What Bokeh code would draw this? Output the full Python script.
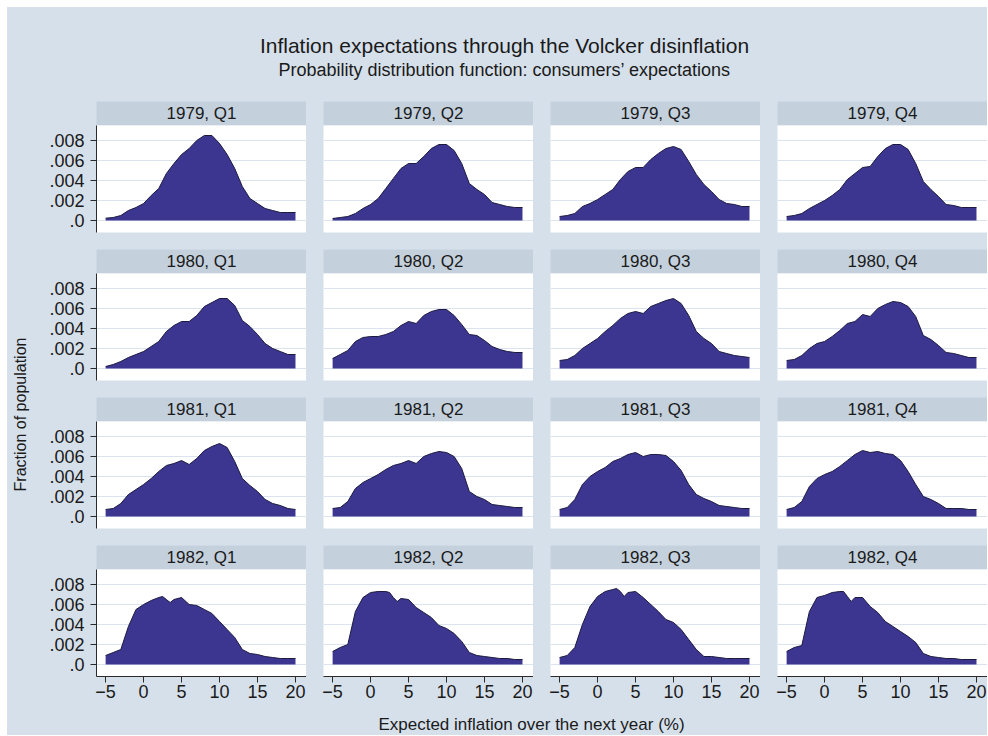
import math
from bokeh.plotting import figure
from bokeh.layouts import row, column
from bokeh.models import Range1d, FixedTicker, ColumnDataSource
from bokeh.embed import file_html
from bokeh.resources import INLINE
from bokeh.core.properties import value

# ---------------- data ----------------
title_text = "Inflation expectations through the Volcker disinflation"
subtitle_text = "Probability distribution function: consumers\u2019 expectations"
x_title = "Expected inflation over the next year (%)"
y_title = "Fraction of population"

years = [1979, 1980, 1981, 1982]
quarters = ["Q1", "Q2", "Q3", "Q4"]

x_grid = list(range(-5, 21))
x_grid_1982 = [-5, -4, -3, -2, -1, 0, 1, 2, 2.5, 3, 3.5, 4] + list(range(5, 21))

pdf_1979_q1 = [0.00023, 0.0003, 0.0005, 0.0010, 0.0013, 0.0017, 0.0025, 0.0032, 0.0047, 0.0057, 0.0066, 0.0072, 0.0080,
               0.0085, 0.0085, 0.0077, 0.0066, 0.0052, 0.0034, 0.0022, 0.0017, 0.0012, 0.0010, 0.0008, 0.0008, 0.0008]
pdf_1979_q2 = [0.0002, 0.0003, 0.0004, 0.0007, 0.0012, 0.0016, 0.0022, 0.0032, 0.0042, 0.0052, 0.0057, 0.0057, 0.0064,
               0.0072, 0.0076, 0.0076, 0.0070, 0.0057, 0.0037, 0.0031, 0.0026, 0.0018, 0.0016, 0.0014, 0.0013, 0.0013]
pdf_1979_q3 = [0.0004, 0.0005, 0.0007, 0.0014, 0.0017, 0.0021, 0.0026, 0.0031, 0.0041, 0.0049, 0.0053, 0.0053, 0.0061,
               0.0067, 0.0072, 0.0074, 0.0071, 0.0059, 0.0046, 0.0036, 0.0029, 0.0021, 0.0017, 0.0016, 0.0014, 0.0014]
pdf_1979_q4 = [0.0004, 0.0005, 0.0007, 0.0012, 0.0016, 0.0020, 0.0025, 0.0031, 0.0041, 0.0047, 0.0053, 0.0054, 0.0064,
               0.0072, 0.0076, 0.0076, 0.0071, 0.0057, 0.0039, 0.0031, 0.0024, 0.0016, 0.0015, 0.0013, 0.0013, 0.0013]

pdf_1980_q1 = [0.0002, 0.0004, 0.0007, 0.0011, 0.0014, 0.0017, 0.0022, 0.0027, 0.0037, 0.0043, 0.0047, 0.0047, 0.0053,
               0.0062, 0.0066, 0.0070, 0.0070, 0.0063, 0.0048, 0.0042, 0.0034, 0.0025, 0.0020, 0.0017, 0.0014, 0.0014]
pdf_1980_q2 = [0.0010, 0.0014, 0.0018, 0.0027, 0.0031, 0.0032, 0.0032, 0.0034, 0.0037, 0.0043, 0.0047, 0.0045, 0.0053,
               0.0057, 0.0059, 0.0059, 0.0053, 0.0044, 0.0034, 0.0033, 0.0028, 0.0022, 0.0019, 0.0017, 0.0016, 0.0016]
pdf_1980_q3 = [0.0008, 0.0009, 0.0013, 0.0020, 0.0025, 0.0030, 0.0037, 0.0043, 0.0050, 0.0055, 0.0057, 0.0055, 0.0062,
               0.0065, 0.0068, 0.0070, 0.0065, 0.0053, 0.0037, 0.0030, 0.0025, 0.0017, 0.0015, 0.0013, 0.0012, 0.0011]
pdf_1980_q4 = [0.0008, 0.0009, 0.0013, 0.0020, 0.0025, 0.0027, 0.0032, 0.0038, 0.0045, 0.0047, 0.0054, 0.0052, 0.0060,
               0.0064, 0.0067, 0.0066, 0.0062, 0.0052, 0.0033, 0.0029, 0.0023, 0.0016, 0.0015, 0.0013, 0.0011, 0.0011]

pdf_1981_q1 = [0.0007, 0.0008, 0.0013, 0.0022, 0.0027, 0.0032, 0.0038, 0.0045, 0.0051, 0.0053, 0.0056, 0.0052, 0.0058,
               0.0066, 0.0070, 0.0073, 0.0069, 0.0055, 0.0038, 0.0031, 0.0025, 0.0017, 0.0013, 0.0011, 0.0008, 0.0007]
pdf_1981_q2 = [0.0008, 0.0009, 0.0015, 0.0028, 0.0034, 0.0038, 0.0042, 0.0047, 0.0051, 0.0053, 0.0056, 0.0053, 0.0060,
               0.0063, 0.0065, 0.0064, 0.0060, 0.0048, 0.0025, 0.0020, 0.0017, 0.0012, 0.0011, 0.0010, 0.0009, 0.0009]
pdf_1981_q3 = [0.0007, 0.0009, 0.0017, 0.0032, 0.0040, 0.0045, 0.0049, 0.0055, 0.0058, 0.0062, 0.0064, 0.0060, 0.0062,
               0.0062, 0.0061, 0.0055, 0.0046, 0.0032, 0.0022, 0.0018, 0.0015, 0.0011, 0.0010, 0.0009, 0.0008, 0.0008]
pdf_1981_q4 = [0.0007, 0.0009, 0.0015, 0.0030, 0.0038, 0.0042, 0.0045, 0.0050, 0.0056, 0.0062, 0.0066, 0.0064, 0.0065,
               0.0063, 0.0062, 0.0056, 0.0045, 0.0032, 0.0020, 0.0017, 0.0013, 0.0008, 0.0008, 0.0008, 0.0007, 0.0007]

pdf_1982_q1 = [0.0009, 0.0012, 0.0015, 0.0038, 0.0055, 0.0060, 0.0064, 0.0067, 0.0068, 0.0065, 0.0062, 0.0065, 0.0067,
               0.0060, 0.0059, 0.0055, 0.0051, 0.0043, 0.0035, 0.0027, 0.0015, 0.0011, 0.0010, 0.0008, 0.0007, 0.0006,
               0.0006, 0.0006]
pdf_1982_q2 = [0.0013, 0.0017, 0.0020, 0.0053, 0.0067, 0.0072, 0.0073, 0.0073, 0.0072, 0.0067, 0.0063, 0.0066, 0.0065,
               0.0057, 0.0052, 0.0047, 0.0039, 0.0036, 0.0031, 0.0023, 0.0012, 0.0009, 0.0008, 0.0007, 0.0006, 0.0006,
               0.0005, 0.0005]
pdf_1982_q3 = [0.0007, 0.0009, 0.0017, 0.0040, 0.0058, 0.0068, 0.0073, 0.0075, 0.0076, 0.0073, 0.0068, 0.0072, 0.0073,
               0.0067, 0.0060, 0.0053, 0.0045, 0.0042, 0.0035, 0.0025, 0.0015, 0.0008, 0.0008, 0.0007, 0.0006, 0.0006,
               0.0006, 0.0006]
pdf_1982_q4 = [0.0013, 0.0017, 0.0019, 0.0053, 0.0067, 0.0069, 0.0072, 0.0073, 0.0073, 0.0068, 0.0063, 0.0067, 0.0067,
               0.0058, 0.0052, 0.0043, 0.0038, 0.0033, 0.0028, 0.0022, 0.0011, 0.0008, 0.0007, 0.0006, 0.0006, 0.0005,
               0.0005, 0.0005]

y_ticks = [0, 0.002, 0.004, 0.006, 0.008]
y_tick_labels = [".0", ".002", ".004", ".006", ".008"]
x_ticks = [-5, 0, 5, 10, 15, 20]
x_tick_labels = ["\u22125", "0", "5", "10", "15", "20"]

series = {
    1979: [pdf_1979_q1, pdf_1979_q2, pdf_1979_q3, pdf_1979_q4],
    1980: [pdf_1980_q1, pdf_1980_q2, pdf_1980_q3, pdf_1980_q4],
    1981: [pdf_1981_q1, pdf_1981_q2, pdf_1981_q3, pdf_1981_q4],
    1982: [pdf_1982_q1, pdf_1982_q2, pdf_1982_q3, pdf_1982_q4],
}
x_for_year = {1979: x_grid, 1980: x_grid, 1981: x_grid, 1982: x_grid_1982}

# ---------------- style / layout ----------------
BG = "#d6e0ea"
HDR = "#c4d1dd"
FILL = "#3c3691"
OUTLINE = "#1c1a40"
TXT = "#1a1a1a"
GRID = "#dbe4ee"
AXIS = "#2a2a2a"
FONT = "Liberation Sans"

MARGIN = 7           # white edge of the original picture
W_TOTAL = 980        # coloured area
H_TOTAL = 728
YLAB_W = 30
COL1_LEFT = 59
GAP = 17
FW = 210
HDR_H = 24
FH = 107
ROW_GAP = 17
B4 = 30
TITLE_H = 94
MID_H = 3 * (HDR_H + FH + ROW_GAP) + HDR_H + FH + B4
XT_H = H_TOTAL - TITLE_H - MID_H


def blank(w, h, xr, yr, bg=BG):
    p = figure(width=w, height=h, x_range=xr, y_range=yr, output_backend="svg",
               toolbar_location=None, x_axis_location=None, y_axis_location=None,
               min_border=0)
    p.grid.visible = False
    p.outline_line_color = None
    p.background_fill_color = bg
    p.border_fill_color = bg
    return p


# title block
title_fig = blank(W_TOTAL, TITLE_H, Range1d(0, W_TOTAL), Range1d(TITLE_H, 0))
title_fig.text(x=[497], y=[38], text=[title_text], text_font=value(FONT), text_font_size="21px",
               text_align="center", text_baseline="middle", text_color=TXT)
title_fig.text(x=[497], y=[62], text=[subtitle_text], text_font=value(FONT), text_font_size="18px",
               text_align="center", text_baseline="middle", text_color=TXT)

# y label
ylab_fig = blank(YLAB_W, MID_H, Range1d(0, YLAB_W), Range1d(MID_H, 0))
ylab_fig.text(x=[13], y=[313], text=[y_title], angle=math.pi / 2, text_font=value(FONT),
              text_font_size="16px", text_align="center", text_baseline="middle", text_color=TXT)

# x title
xt_fig = blank(W_TOTAL, XT_H, Range1d(0, W_TOTAL), Range1d(XT_H, 0))
xt_fig.text(x=[524], y=[18], text=[x_title], text_font=value(FONT), text_font_size="17px",
            text_align="center", text_baseline="middle", text_color=TXT)

rows = []
for r, yr in enumerate(years):
    last = (r == len(years) - 1)
    hdrs, pnls = [], []
    for c, q in enumerate(quarters):
        ml = COL1_LEFT if c == 0 else GAP
        w = ml + FW
        # header strip
        h = figure(width=w, height=HDR_H, x_range=Range1d(0, 1), y_range=Range1d(0, 1),
                   output_backend="svg", toolbar_location=None, x_axis_location=None,
                   y_axis_location=None, min_border=0, min_border_left=ml)
        h.grid.visible = False
        h.outline_line_color = None
        h.background_fill_color = HDR
        h.border_fill_color = BG
        h.text(x=[0.5], y=[0.5], text=[f"{yr}, {q}"], text_font=value(FONT), text_font_size="17px",
               text_align="center", text_baseline="middle", text_color=TXT)
        hdrs.append(h)

        bottom = B4 if last else ROW_GAP
        p = figure(width=w, height=FH + bottom,
                   x_range=Range1d(-6.2, 21.45), y_range=Range1d(-0.0012, 0.0095),
                   output_backend="svg", toolbar_location=None,
                   x_axis_location="below" if last else None,
                   y_axis_location="left" if c == 0 else None,
                   min_border=0, min_border_left=ml, min_border_bottom=bottom)
        p.outline_line_color = None
        p.background_fill_color = "white"
        p.border_fill_color = BG
        p.xgrid.visible = False
        p.ygrid.ticker = FixedTicker(ticks=y_ticks)
        p.ygrid.grid_line_color = GRID
        p.ygrid.grid_line_width = 1

        if c == 0:
            ax = p.yaxis[0]
            ax.ticker = FixedTicker(ticks=y_ticks)
            ax.major_label_overrides = dict(zip(y_ticks, y_tick_labels))
            ax.axis_line_color = AXIS
            ax.major_tick_line_color = AXIS
            ax.major_tick_out = 6
            ax.major_tick_in = 0
            ax.minor_tick_line_color = None
            ax.major_label_text_font = FONT
            ax.major_label_text_font_size = "18px"
            ax.major_label_text_color = TXT
            ax.major_label_standoff = 6
        if last:
            ax = p.xaxis[0]
            ax.ticker = FixedTicker(ticks=x_ticks)
            ax.major_label_overrides = dict(zip(x_ticks, x_tick_labels))
            ax.axis_line_color = AXIS
            ax.major_tick_line_color = AXIS
            ax.major_tick_out = 6
            ax.major_tick_in = 0
            ax.minor_tick_line_color = None
            ax.major_label_text_font = FONT
            ax.major_label_text_font_size = "18px"
            ax.major_label_text_color = TXT
            ax.major_label_standoff = 2

        src = ColumnDataSource(dict(x=x_for_year[yr], y=series[yr][c]))
        p.varea(x="x", y1=0, y2="y", source=src, fill_color=FILL)
        p.line(x="x", y="y", source=src, line_color=OUTLINE, line_width=1)
        pnls.append(p)
    rows.append(row(*hdrs, spacing=0))
    rows.append(row(*pnls, spacing=0))

grid = column(*rows, spacing=0)
middle = row(ylab_fig, grid, spacing=0)
content = column(title_fig, middle, xt_fig, spacing=0, styles={"background-color": BG})

top_pad = blank(W_TOTAL, MARGIN, Range1d(0, 1), Range1d(0, 1), bg="white")
left_pad = blank(MARGIN, MARGIN + H_TOTAL, Range1d(0, 1), Range1d(0, 1), bg="white")
layout = row(left_pad, column(top_pad, content, spacing=0), spacing=0)

with open("out.html", "w") as f:
    f.write(file_html(layout, INLINE, title="Volcker disinflation"))
